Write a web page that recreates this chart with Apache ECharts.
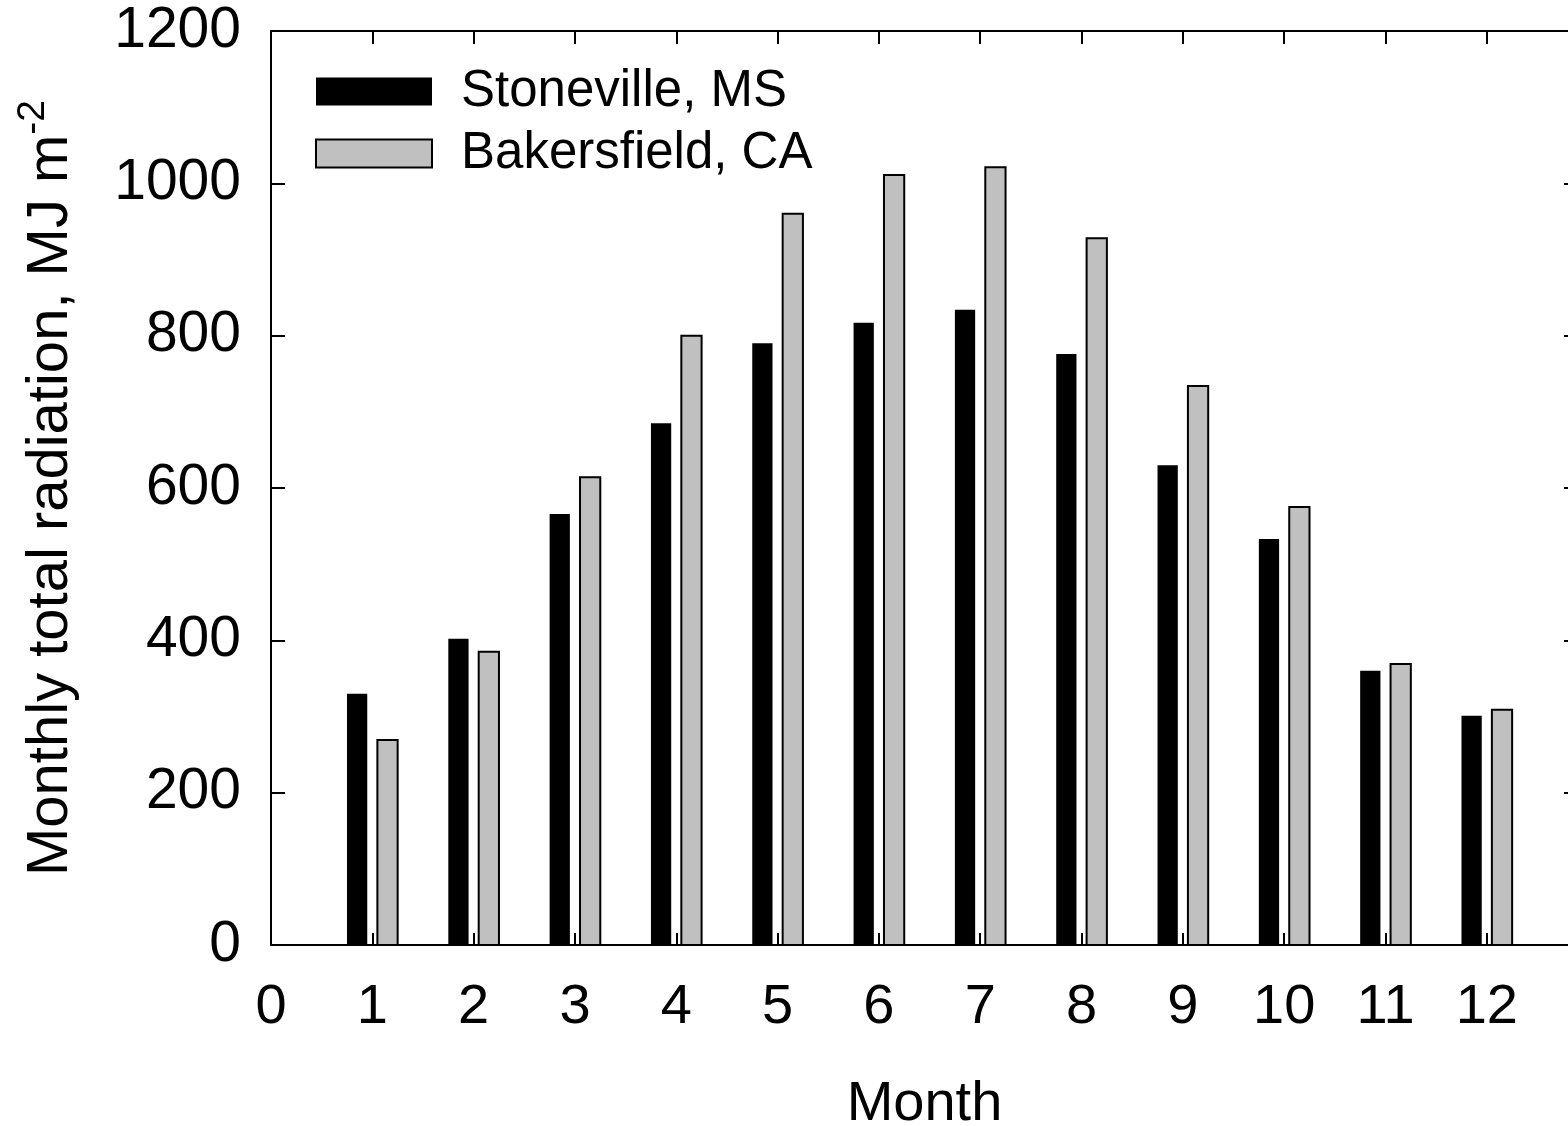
<!DOCTYPE html>
<html>
<head>
<meta charset="utf-8">
<script src="https://cdn.jsdelivr.net/npm/echarts@6/dist/echarts.min.js"></script>
<style>
html,body{margin:0;padding:0;background:#fff;}
#chart{width:1568px;height:1126px;}
</style>
</head>
<body>
<div id="chart"></div>
<script>
var months = [1,2,3,4,5,6,7,8,9,10,11,12];
var stoneville = [330,402,566,685,790,817,834,776,630,533,360,301];
var bakersfield = [269,385,614,800,960,1011,1021,928,734,575,369,309];
var seriesNames = ['Stoneville, MS','Bakersfield, CA'];
var yTitle = 'Monthly total radiation, MJ m';
var yTitleSup = '-2';
var xTitle = 'Month';

var FONT = '"Liberation Sans", Arial, Helvetica, sans-serif';
var BAR_W = 0.2;

function makeRender(offset, fill, stroke, lw){
  return function(params, api){
    var x = api.value(0), y = api.value(1);
    var p0 = api.coord([x + offset - BAR_W/2, y]);
    var p1 = api.coord([x + offset + BAR_W/2, 0]);
    return {
      type:'rect',
      shape:{x:p0[0], y:p0[1], width:p1[0]-p0[0], height:p1[1]-p0[1]},
      style:{fill:fill, stroke:stroke, lineWidth:lw}
    };
  };
}

var chart = echarts.init(document.getElementById('chart'), null, {renderer:'canvas'});
var lineSt = {show:true, onZero:false, lineStyle:{color:'#000', width:2}};
chart.setOption({
  animation:false,
  backgroundColor:'#fff',
  textStyle:{fontFamily:FONT},
  grid:{left:271, top:31, right:-10, bottom:181, containLabel:false, outerBoundsMode:'none'},
  legend:{
    orient:'vertical', left:315, top:66, padding:0,
    itemWidth:116, itemHeight:28, itemGap:11,
    textStyle:{fontFamily:FONT, fontSize:51, color:'#000', padding:[0,0,0,24]},
    data:[{name:seriesNames[0], icon:'rect'},{name:seriesNames[1], icon:'rect'}]
  },
  xAxis:[{
    type:'value', min:0, max:12.9, interval:1, position:'bottom',
    name:xTitle, nameLocation:'middle', nameGap:132,
    nameTextStyle:{fontFamily:FONT, fontSize:56, color:'#000'},
    axisLine:lineSt,
    axisTick:{show:true, inside:true, length:12, lineStyle:{color:'#000', width:2}},
    axisLabel:{fontFamily:FONT, fontSize:56, color:'#000', margin:35,
      formatter:function(v){ return (Math.abs(v - Math.round(v)) < 1e-6) ? String(Math.round(v)) : ''; }},
    splitLine:{show:false}
  },{
    type:'value', min:0, max:12.9, interval:1, position:'top',
    axisLine:lineSt,
    axisTick:{show:true, inside:true, length:13, lineStyle:{color:'#000', width:2}},
    axisLabel:{show:false}, splitLine:{show:false}
  }],
  yAxis:[{
    type:'value', min:0, max:1200, interval:200, position:'left',
    name:'{a|' + yTitle + '}{b|' + yTitleSup + '}',
    nameLocation:'middle', nameRotate:90, nameGap:191,
    nameTextStyle:{fontFamily:FONT, fontSize:58, color:'#000',
      rich:{
        a:{fontFamily:FONT, fontSize:58, color:'#000', lineHeight:66, verticalAlign:'bottom'},
        b:{fontFamily:FONT, fontSize:39, color:'#000', lineHeight:66, verticalAlign:'top'}
      }},
    axisLine:lineSt,
    axisTick:{show:true, inside:true, length:14, lineStyle:{color:'#000', width:2}},
    axisLabel:{fontFamily:FONT, fontSize:57, color:'#000', margin:30,
      formatter:function(v){ return String(v); }},
    splitLine:{show:false}
  },{
    type:'value', min:0, max:1200, interval:200, position:'right',
    axisLine:lineSt,
    axisTick:{show:true, inside:true, length:14, lineStyle:{color:'#000', width:2}},
    axisLabel:{show:false}, splitLine:{show:false}
  }],
  series:[{
    name:seriesNames[0], type:'custom',
    itemStyle:{color:'#000', borderColor:'#000', borderWidth:0},
    renderItem:makeRender(-0.15, '#000', '#000', 0),
    encode:{x:0, y:1},
    data:months.map(function(m,i){ return [m, stoneville[i]]; })
  },{
    name:seriesNames[1], type:'custom',
    itemStyle:{color:'#c0c0c0', borderColor:'#000', borderWidth:2},
    renderItem:makeRender(0.15, '#c0c0c0', '#000', 2),
    encode:{x:0, y:1},
    data:months.map(function(m,i){ return [m, bakersfield[i]]; })
  }]
});
</script>
</body>
</html>
